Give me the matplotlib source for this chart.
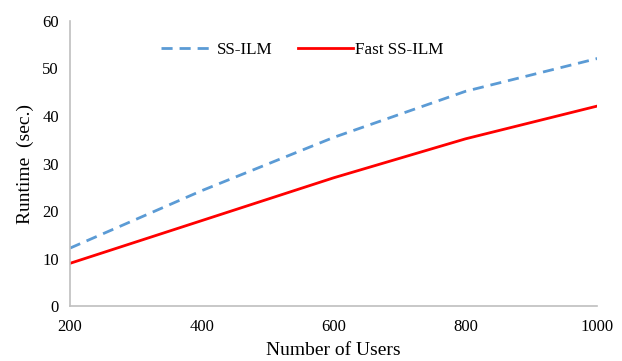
import matplotlib
matplotlib.use('Agg')
import matplotlib.pyplot as plt

# values
users = [200, 400, 600, 800, 1000]
ss_ilm = [12.2, 24.3, 35.5, 45.2, 52.1]
fast_ss_ilm = [9.0, 18.0, 27.0, 35.2, 42.1]

plt.rcParams['font.family'] = ['Liberation Serif', 'DejaVu Serif']

fig = plt.figure(figsize=(6.22, 3.61), dpi=100)
ax = fig.add_axes([0.1125, 0.152, 0.848, 0.79])

ax.plot(users, ss_ilm, color='#5b9bd5', lw=2.0, ls=(0, (4, 2.5)), label='SS-ILM')
ax.plot(users, fast_ss_ilm, color='#ff0000', lw=2.0, label='Fast SS-ILM')

ax.set_xlim(200, 1000)
ax.set_ylim(0, 60)
ax.set_xticks(users)
ax.set_yticks(range(0, 61, 10))
ax.tick_params(axis='x', length=0, labelsize=12, pad=9)
ax.tick_params(axis='y', length=0, labelsize=12, pad=8)

for s in ['top', 'right']:
    ax.spines[s].set_visible(False)
for s in ['left', 'bottom']:
    ax.spines[s].set_color('#bfbfbf')
    ax.spines[s].set_linewidth(1.2)

ax.set_xlabel('Number of Users', fontsize=14, labelpad=5)
ax.set_ylabel('Runtime  (sec.)', fontsize=14, labelpad=6)

ax.legend(loc='upper center', bbox_to_anchor=(0.44, 0.98), ncol=2, frameon=False,
          fontsize=12.3, handlelength=3.2, handletextpad=0.1, columnspacing=1.5)

fig.savefig('out.png', dpi=100)
